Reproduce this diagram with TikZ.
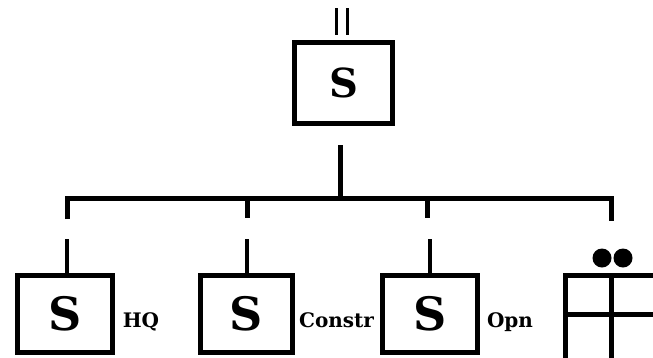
\documentclass[tikz,border=0pt]{standalone}
\usepackage{fontspec}
\setmainfont{DejaVu Serif}
\begin{document}
\begin{tikzpicture}[x=1pt,y=-1pt,
  unitbox/.style={draw,line width=5pt,inner sep=0pt,minimum height=77pt},
  bigS/.style={font=\bfseries\fontsize{46}{46}\selectfont},
  topS/.style={font=\bfseries\fontsize{40}{40}\selectfont},
  lbl/.style={font=\bfseries\fontsize{20}{20}\selectfont,inner sep=0pt},
  link/.style={line width=5pt},
  sublink/.style={line width=4.5pt},
  gridline/.style={line width=5pt}]
\useasboundingbox (0,0) rectangle (653,357);
\clip (0,0) rectangle (653,357);
% top unit
\node[unitbox,minimum width=98pt,minimum height=81pt,topS] (top) at (343.5,83) {S};
\draw[line width=3.2pt] (336.5,8) -- (336.5,35) (347.5,8) -- (347.5,35);
\coordinate (stemtop) at (340,145);
\coordinate (stembot) at (340,198);
\draw[link] (stemtop) -- (stembot);
% bar
\coordinate (b1) at (67,198);
\coordinate (b2) at (247,198);
\coordinate (b3) at (427,198);
\coordinate (b4) at (611,198);
\draw[link] (67,219) -- (b1) -- (b4) -- (611,221);
\draw[link] (b2) -- (247,218);
\draw[link] (b3) -- (427,218);
% bottom units
\node[unitbox,minimum width=95pt,bigS] (hq) at (65,314) {S};
\node[unitbox,minimum width=92pt,bigS] (con) at (246.5,314) {S};
\node[unitbox,minimum width=95pt,bigS] (opn) at (430,314) {S};
\draw[sublink] (67,239) -- (hq.north -| 67,0);
\draw[sublink] (247,239) -- (con.north -| 247,0);
\draw[sublink] (430,239) -- (opn.north);
\node[lbl,anchor=base] (lhq) at (141,327) {HQ};
\node[lbl,anchor=base] (lcon) at (336.5,327) {Constr};
\node[lbl,anchor=base] (lopn) at (510,327) {Opn};
% grid unit
\draw[gridline] (565.5,362) -- (565.5,275.5) -- (660,275.5);
\draw[gridline] (563,314) -- (660,314);
\draw[gridline] (611,275.5) -- (611,362);
\fill (602,258) circle (9.5);
\fill (623,258) circle (9.5);
\end{tikzpicture}
\end{document}
